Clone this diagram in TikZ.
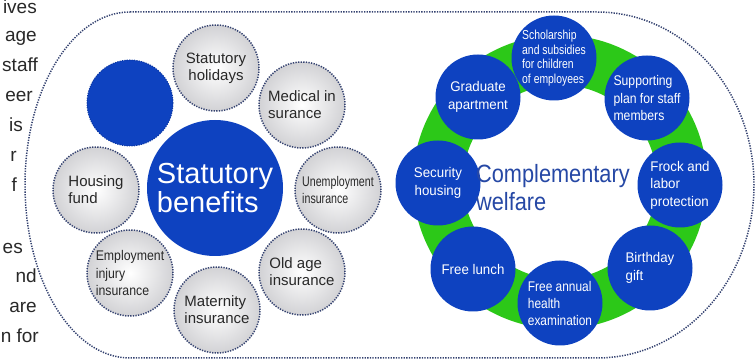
\documentclass[tikz,border=0pt]{standalone}
\usepackage{fontspec}
\setmainfont{Liberation Sans}
\newfontfamily\nA[FakeStretch=0.80]{Liberation Sans}
\newfontfamily\nB[FakeStretch=0.88]{Liberation Sans}
\newfontfamily\nC[FakeStretch=0.95]{Liberation Sans}
\newfontfamily\nD[FakeStretch=0.85]{Liberation Sans}
\newfontfamily\nE[FakeStretch=0.76]{Liberation Sans}
\newfontfamily\nF[FakeStretch=0.87]{Liberation Sans}
\definecolor{myblue}{RGB}{14,66,192}
\definecolor{mygreen}{RGB}{44,200,24}
\definecolor{txtgrey}{RGB}{40,40,40}
\definecolor{dotcol}{RGB}{52,66,112}
\definecolor{compcol}{RGB}{38,72,165}
\definecolor{ballgrey}{RGB}{210,210,213}
\begin{document}
\begin{tikzpicture}[x=1pt,y=-1pt,
  dotline/.style={draw=dotcol, line width=1.5pt, dash pattern=on 1.3pt off 1.3pt},
  gc/.style={circle, minimum size=86pt, inner sep=0pt, shading=radial, inner color=white, outer color=ballgrey, dotline, text=txtgrey, font=\fontsize{15}{17}\selectfont, align=left},
  bc/.style={circle, minimum size=85pt, inner sep=0pt, fill=myblue, text=white, font=\nC\fontsize{14}{17.5}\selectfont, align=left},
  para/.style={anchor=base east, inner sep=0pt, text=txtgrey, font=\fontsize{19}{22}\selectfont}]
\useasboundingbox (0,0) rectangle (756,363);
\clip (0,0) rectangle (756,363);
% paragraph fragments
\node[para] (p1) at (37,14) {ives};
\node[para] (p2) at (37,42) {age};
\node[para] (p3) at (38,72) {staff};
\node[para] (p4) at (33,102) {eer};
\node[para] (p5) at (23,132) {is};
\node[para] (p6) at (17,162) {r};
\node[para] (p7) at (17,192) {f};
\node[para] (p8) at (23,254) {es};
\node[para] (p9) at (37,283) {nd};
\node[para] (p10) at (37,313) {are};
\node[para] (p11) at (39,343) {n for};
% frame
\path[fill=white, dotline] (130,12) -- (597,12) arc[start angle=-90, end angle=90, x radius=157, y radius=173]
  -- (130,358) arc[start angle=90, end angle=270, x radius=105, y radius=173] -- cycle;
% left group
\node[circle, minimum size=86pt, inner sep=0pt, fill=myblue, draw=myblue!85!black, line width=1pt, dash pattern=on 1.2pt off 1.2pt] (blank) at (130,103) {};
\node[gc, align=center] (hol) at (216,68) {Statutory\\holidays};
\node[gc] (med) at (302,105) {Medical in\\surance};
\node[gc, font=\nE\fontsize{14}{16.5}\selectfont] (unemp) at (338,190) {Unemployment\\insurance};
\node[gc] (old) at (302,272) {Old age\\insurance};
\node[gc] (mat) at (217,310) {Maternity\\insurance};
\node[gc, font=\nB\fontsize{14}{17.5}\selectfont] (emp) at (130,273) {Employment\\injury\\insurance};
\node[gc] (house) at (96,190) {Housing\\fund};
\node[circle, minimum size=136pt, inner sep=0pt, fill=myblue, text=white, align=left, font=\fontsize{29}{29}\selectfont] (stat) at (215,188) {Statutory\\benefits};
% right group
\draw[mygreen, line width=50pt] (560,182) circle[radius=122];
\node[bc, font=\nA\fontsize{13}{14.5}\selectfont] (sch) at (554,58) {Scholarship\\and subsidies\\for children\\of employees};
\node[bc, align=center, font=\nC\fontsize{14}{18}\selectfont] (grad) at (478,97) {Graduate\\apartment};
\node[bc, font=\fontsize{14}{17.5}\selectfont\nF] (sup) at (647,98) {Supporting\\plan for staff\\members};
\node[bc, align=center] (sec) at (438,183) {Security\\housing};
\node[bc] (frock) at (680,185) {Frock and\\labor\\protection};
\node[bc, align=center] (lunch) at (473,269) {Free lunch};
\node[bc] (bday) at (650,268) {Birthday\\gift};
\node[bc, font=\nD\fontsize{14}{17}\selectfont] (exam) at (560,303) {Free annual\\health\\examination};
\node[anchor=west, inner sep=0pt, align=left, text=compcol, font=\nF\fontsize{25}{28}\selectfont] (comp) at (476,188) {Complementary\\welfare};
\end{tikzpicture}
\end{document}
